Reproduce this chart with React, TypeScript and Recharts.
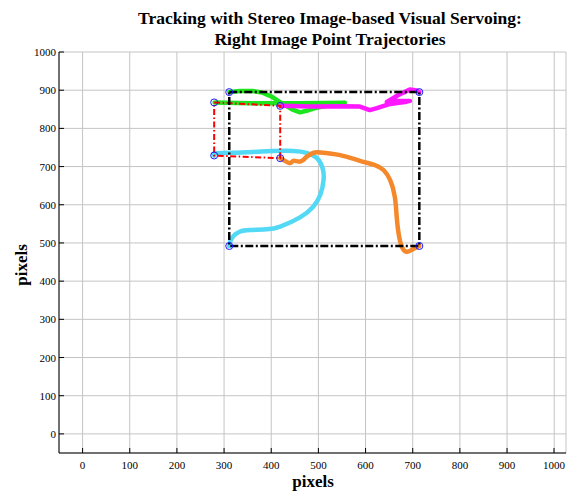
import {
  ComposedChart,
  Line,
  Scatter,
  XAxis,
  YAxis,
  CartesianGrid,
} from 'recharts';

// image-plane trajectories of the four tracked points (pixels)
const greenPath = [
  { x: 280, y: 868 }, { x: 355, y: 866 }, { x: 461, y: 866 }, { x: 556, y: 867 },
  { x: 525, y: 861 }, { x: 493, y: 853 }, { x: 475, y: 846 }, { x: 461, y: 842 },
  { x: 444, y: 850 }, { x: 422, y: 866 }, { x: 401, y: 883 }, { x: 380, y: 894 },
  { x: 360, y: 898 }, { x: 334, y: 898 }, { x: 311, y: 895 },
];

const magentaPath = [
  { x: 419, y: 859 }, { x: 482, y: 857 }, { x: 552, y: 858 }, { x: 588, y: 857 },
  { x: 609, y: 848 }, { x: 624, y: 853 }, { x: 652, y: 864 }, { x: 687, y: 870 },
  { x: 694, y: 872 }, { x: 666, y: 872 }, { x: 645, y: 869 }, { x: 662, y: 882 },
  { x: 679, y: 893 }, { x: 694, y: 902 }, { x: 708, y: 899 }, { x: 714, y: 895 },
];

const cyanPath = [
  { x: 279, y: 729 }, { x: 281, y: 735 }, { x: 320, y: 736 }, { x: 391, y: 740 },
  { x: 447, y: 741 }, { x: 475, y: 736 }, { x: 497, y: 722 }, { x: 509, y: 695 },
  { x: 511, y: 665 }, { x: 504, y: 626 }, { x: 489, y: 595 }, { x: 461, y: 567 },
  { x: 419, y: 543 }, { x: 391, y: 536 }, { x: 355, y: 534 }, { x: 334, y: 530 },
  { x: 320, y: 518 }, { x: 313, y: 503 }, { x: 311, y: 492 },
];

const orangePath = [
  { x: 419, y: 722 }, { x: 429, y: 715 }, { x: 440, y: 709 }, { x: 447, y: 715 },
  { x: 458, y: 713 }, { x: 468, y: 717 }, { x: 475, y: 726 }, { x: 489, y: 736 },
  { x: 504, y: 737 }, { x: 546, y: 730 }, { x: 588, y: 715 }, { x: 620, y: 704 },
  { x: 638, y: 691 }, { x: 652, y: 665 }, { x: 662, y: 621 }, { x: 666, y: 569 },
  { x: 670, y: 525 }, { x: 677, y: 490 }, { x: 687, y: 477 }, { x: 698, y: 482 },
  { x: 708, y: 489 }, { x: 714, y: 492 },
];

// initial (red) and desired (black) point configurations
const startBox = [
  { x: 279, y: 868 }, { x: 419, y: 859 }, { x: 419, y: 722 }, { x: 279, y: 729 }, { x: 279, y: 868 },
];
const goalBox = [
  { x: 311, y: 895 }, { x: 714, y: 895 }, { x: 714, y: 492 }, { x: 311, y: 492 }, { x: 311, y: 895 },
];
const corners = [...startBox.slice(0, 4), ...goalBox.slice(0, 4)];

const xTicks = [0, 100, 200, 300, 400, 500, 600, 700, 800, 900, 1000];
const yTicks = [0, 100, 200, 300, 400, 500, 600, 700, 800, 900, 1000];

const FONT = '"Liberation Serif", "Times New Roman", serif';

const trajectories = [
  { data: greenPath, color: '#1ee61e', curve: 'linear' },
  { data: magentaPath, color: '#ff18ff', curve: 'linear' },
  { data: cyanPath, color: '#52d9f5', curve: 'natural' },
  { data: orangePath, color: '#f5882a', curve: 'natural' },
];

const Ring = (props: any) => (
  <circle cx={props.cx} cy={props.cy} r={3.5} fill="none" stroke="#1a1aff" strokeWidth={1} />
);

// inward-pointing tick marks; x/y arrive sitting on the axis line
const BottomTick = ({ x, y, payload }: any) => (
  <g>
    <line x1={x} x2={x} y1={y} y2={y - 5} stroke="#000" />
    <text x={x} y={y + 16} textAnchor="middle" fontSize={11} fill="#000" fontFamily={FONT}>
      {payload.value}
    </text>
  </g>
);
const LeftTick = ({ x, y, payload }: any) => (
  <g>
    <line x1={x} x2={x + 5} y1={y} y2={y} stroke="#000" />
    <text x={x - 3} y={y + 4} textAnchor="end" fontSize={11} fill="#000" fontFamily={FONT}>
      {payload.value}
    </text>
  </g>
);
const TopTick = ({ x, y }: any) => <line x1={x} x2={x} y1={y} y2={y + 5} stroke="#000" />;
const RightTick = ({ x, y }: any) => <line x1={x} x2={x - 5} y1={y} y2={y} stroke="#000" />;

export default function App() {
  return (
    <div style={{ position: 'absolute', left: 0, top: 0, width: 570, height: 496, background: '#fff', fontFamily: FONT }}>
      <div
        style={{
          position: 'absolute',
          left: 130,
          width: 400,
          top: 8,
          textAlign: 'center',
          fontSize: 17.5,
          fontWeight: 'bold',
          lineHeight: '21px',
          color: '#000',
          whiteSpace: 'nowrap',
        }}
      >
        Tracking with Stereo Image-based Visual Servoing:
        <br />
        Right Image Point Trajectories
      </div>
      <ComposedChart
        width={570}
        height={496}
        margin={{ top: 52, right: 4, bottom: 0, left: 0 }}
        style={{ fontFamily: FONT }}
      >
        <CartesianGrid stroke="#c4c4c4" strokeWidth={1} />
        <XAxis
          type="number"
          dataKey="x"
          domain={[-50, 1025]}
          allowDataOverflow
          ticks={xTicks}
          height={43}
          tickSize={0}
          tickMargin={0}
          tickLine={false}
          stroke="#000"
          tick={BottomTick}
        />
        <XAxis
          xAxisId="top"
          orientation="top"
          type="number"
          dataKey="x"
          domain={[-50, 1025]}
          allowDataOverflow
          ticks={xTicks}
          height={0}
          tickSize={0}
          tickMargin={0}
          tickLine={false}
          stroke="#000"
          tick={TopTick}
        />
        <YAxis
          type="number"
          dataKey="y"
          domain={[-50, 1000]}
          allowDataOverflow
          ticks={yTicks}
          width={59}
          tickSize={0}
          tickMargin={0}
          tickLine={false}
          stroke="#000"
          tick={LeftTick}
        />
        <YAxis
          yAxisId="right"
          orientation="right"
          type="number"
          dataKey="y"
          domain={[-50, 1000]}
          allowDataOverflow
          ticks={yTicks}
          width={0}
          tickSize={0}
          tickMargin={0}
          tickLine={false}
          stroke="#000"
          tick={RightTick}
        />
        {trajectories.map((t, i) => (
          <Line
            key={i}
            data={t.data}
            dataKey="y"
            type={t.curve as any}
            stroke={t.color}
            strokeWidth={4.5}
            strokeLinecap="round"
            strokeLinejoin="round"
            dot={false}
            activeDot={false}
            isAnimationActive={false}
          />
        ))}
        <Line
          data={startBox}
          dataKey="y"
          type="linear"
          stroke="#ff0000"
          strokeWidth={2}
          strokeDasharray="6 2.5 1.5 2.5"
          dot={false}
          activeDot={false}
          isAnimationActive={false}
        />
        <Line
          data={goalBox}
          dataKey="y"
          type="linear"
          stroke="#000"
          strokeWidth={2.5}
          strokeDasharray="8 2.5 2 2.5"
          dot={false}
          activeDot={false}
          isAnimationActive={false}
        />
        <Scatter data={corners} dataKey="y" shape={Ring} isAnimationActive={false} />
      </ComposedChart>
      <div
        style={{
          position: 'absolute',
          left: 213,
          width: 200,
          top: 472,
          textAlign: 'center',
          fontSize: 17,
          fontWeight: 'bold',
          lineHeight: '20px',
        }}
      >
        pixels
      </div>
      <div
        style={{
          position: 'absolute',
          left: -28,
          width: 100,
          top: 255,
          height: 20,
          textAlign: 'center',
          fontSize: 17,
          fontWeight: 'bold',
          lineHeight: '20px',
          transform: 'rotate(-90deg)',
        }}
      >
        pixels
      </div>
    </div>
  );
}
